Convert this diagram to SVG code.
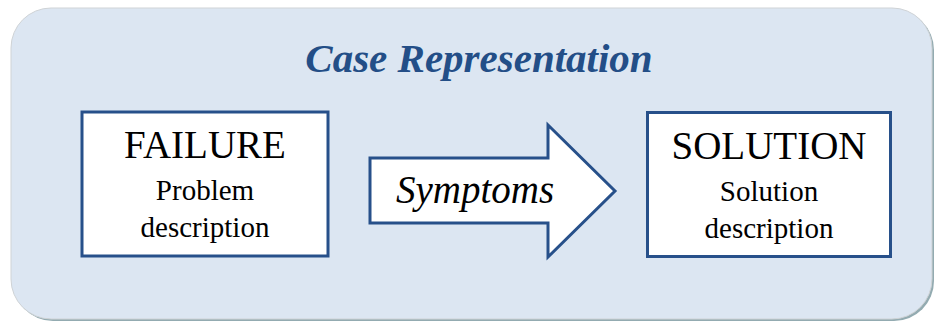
<svg xmlns="http://www.w3.org/2000/svg" width="937" height="322" viewBox="0 0 937 322">
  <style>
    .panel { fill: #dce6f2; stroke: #cfd3d6; stroke-width: 1; }
    .shadow { fill: #93abb1; }
    .box { fill: #ffffff; stroke: #27508a; stroke-width: 3; }
    .title { font-weight: bold; font-style: italic; font-size: 41px; fill: #234e87; }
    .head { font-size: 39px; }
    .sub { font-size: 29px; }
    .label { font-style: italic; font-size: 39px; }
  </style>

  <!-- background panel -->
  <g id="panel">
    <rect class="shadow" x="13" y="10" width="921" height="311" rx="40" ry="40"/>
    <rect class="panel" x="11" y="8" width="921" height="311" rx="40" ry="40"/>
    <text class="title" x="479" y="72" font-family="Liberation Serif, Times New Roman, Times, DejaVu Serif, Noto Serif, serif" text-anchor="middle">Case Representation</text>
  </g>

  <g id="failure" font-family="Liberation Serif, Times New Roman, Times, DejaVu Serif, Noto Serif, serif" text-anchor="middle" fill="#000">
    <rect class="box" x="82" y="112" width="246" height="144"/>
    <text class="head" x="205" y="158">FAILURE</text>
    <text class="sub" x="205" y="200">Problem</text>
    <text class="sub" x="205" y="237">description</text>
  </g>

  <g id="solution" font-family="Liberation Serif, Times New Roman, Times, DejaVu Serif, Noto Serif, serif" text-anchor="middle" fill="#000">
    <rect class="box" x="647.5" y="112.5" width="243" height="144"/>
    <text class="head" x="769" y="159" font-size="40">SOLUTION</text>
    <text class="sub" x="769" y="201">Solution</text>
    <text class="sub" x="769" y="238">description</text>
  </g>

  <!-- connector: block arrow -->
  <g id="connectors" font-family="Liberation Serif, Times New Roman, Times, DejaVu Serif, Noto Serif, serif" text-anchor="middle" fill="#000">
    <path class="box" d="M370 158 L548 158 L548 125 L615 191 L548 257 L548 223 L370 223 Z"/>
    <text class="label" x="475" y="203">Symptoms</text>
  </g>
</svg>
